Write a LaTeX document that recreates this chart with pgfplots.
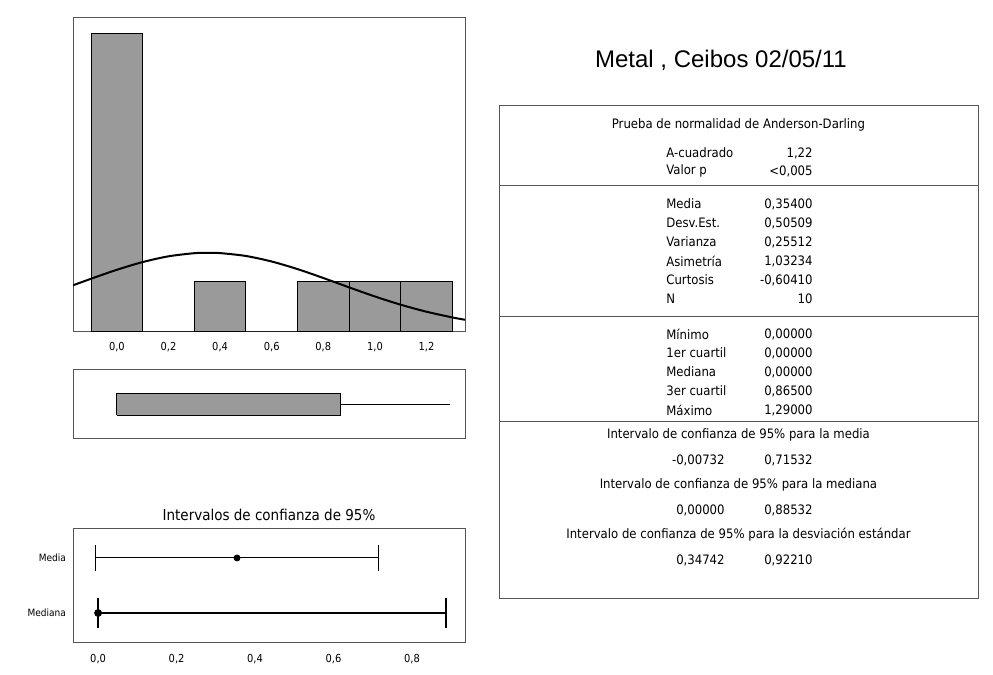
\documentclass[border=0pt]{standalone}
\usepackage{fontspec}
\setmainfont{DejaVu Sans Condensed}
\newfontfamily\titlefont{Liberation Sans}
\usepackage{pgfplots}
\pgfplotsset{compat=1.18}

\definecolor{bargray}{HTML}{9A9A9A}
\definecolor{framegray}{HTML}{555555}

% common look of the three panels on the left
\pgfplotsset{
  summary/.style={
    scale only axis,
    width=196pt,
    anchor=south west,
    axis line style={framegray, line width=0.4pt},
    major tick length=0pt,
    tick label style={font=\fontsize{5.5}{6}\selectfont},
    /pgf/number format/use comma,
    /pgf/number format/fixed,
    /pgf/number format/fixed zerofill,
    /pgf/number format/precision=1,
    /pgf/number format/assume math mode=true,
  }
}
\newcommand\tabfont{\fontsize{6.5}{7.5}\selectfont}

\begin{document}
\begin{tikzpicture}
\useasboundingbox (0,0) rectangle (496.5pt,-337.5pt);

% histogram with fitted normal curve
\begin{axis}[summary,
  at={(36.5pt,-165.5pt)}, height=157pt,
  xmin=-0.17, xmax=1.349, ymin=0, ymax=6.34,
  ytick=\empty,
  xtick={0,0.2,0.4,0.6,0.8,1.0,1.2},
  xticklabel style={yshift=-2pt},
]
\addplot[ybar interval, fill=bargray, draw=black, line width=0.5pt]
  coordinates {(-0.1,6) (0.1,0) (0.3,1) (0.5,0) (0.7,1) (0.9,1) (1.1,1) (1.3,1)};
\addplot[black, line width=1pt, smooth] coordinates {
  (-0.17,0.923) (-0.1,1.055) (0.0,1.236) (0.1,1.392) (0.2,1.508) (0.3,1.571)
  (0.354,1.580) (0.4,1.573) (0.5,1.515) (0.6,1.403) (0.7,1.250) (0.8,1.070)
  (0.9,0.881) (1.0,0.697) (1.1,0.531) (1.2,0.389) (1.3,0.274) (1.35,0.226)};
\end{axis}

% box plot
\begin{axis}[summary,
  at={(36.5pt,-219pt)}, height=34.5pt,
  xmin=-0.17, xmax=1.349, ymin=0, ymax=1,
  xtick=\empty, ytick=\empty,
]
\addplot[fill=bargray, draw=black, line width=0.5pt]
  coordinates {(0,0.333) (0.865,0.333) (0.865,0.638) (0,0.638) (0,0.333)};
\addplot[black, line width=0.5pt] coordinates {(0.865,0.486) (1.29,0.486)};
\end{axis}

% 95% confidence intervals
\begin{axis}[summary,
  at={(36.5pt,-321pt)}, height=57pt,
  xmin=-0.064, xmax=0.935, ymin=0.473, ymax=2.545,
  xtick={0,0.2,0.4,0.6,0.8},
  xticklabel style={yshift=-2.5pt},
  ytick={1,2}, yticklabels={Mediana,Media},
  yticklabel style={font=\fontsize{5}{6}\selectfont},
]
\addplot[black, line width=0.5pt] coordinates {(-0.00732,2) (0.71532,2)};
\addplot[black, line width=0.5pt] coordinates {(-0.00732,1.755) (-0.00732,2.245)};
\addplot[black, line width=0.5pt] coordinates {(0.71532,1.755) (0.71532,2.245)};
\addplot[black, only marks, mark=*, mark size=1.5pt] coordinates {(0.354,2)};
\addplot[black, line width=1pt] coordinates {(0,1) (0.88532,1)};
\addplot[black, line width=1pt] coordinates {(0,0.736) (0,1.264)};
\addplot[black, line width=1pt] coordinates {(0.88532,0.736) (0.88532,1.264)};
\addplot[black, only marks, mark=*, mark size=1.75pt] coordinates {(0,1)};
\end{axis}

\node[font=\fontsize{7.5}{9}\selectfont] at (134.5pt,-257.5pt) {Intervalos de confianza de 95\%};

% title
\node[font=\titlefont\fontsize{12}{14}\selectfont] at (360.5pt,-30pt) {Metal , Ceibos 02/05/11};

% summary table
\draw[framegray, line width=0.4pt] (249.5pt,-52.5pt) rectangle (489pt,-299pt);
\draw[framegray, line width=0.4pt] (249.5pt,-92.5pt) -- (489pt,-92.5pt);
\draw[framegray, line width=0.4pt] (249.5pt,-158pt) -- (489pt,-158pt);
\draw[framegray, line width=0.4pt] (249.5pt,-210.5pt) -- (489pt,-210.5pt);

\begin{scope}[every node/.style={font=\tabfont, inner sep=0pt}]
\node at (369.25pt,-62.5pt) {Prueba de normalidad de Anderson-Darling};
\node[anchor=west] at (333pt,-76.5pt) {A-cuadrado};
\node[anchor=east] at (406.5pt,-76.5pt) {1,22};
\node[anchor=west] at (333pt,-85.5pt) {Valor p};
\node[anchor=east] at (406.5pt,-85.5pt) {<0,005};

\node[anchor=west] at (333pt,-102pt) {Media};
\node[anchor=east] at (406.5pt,-102pt) {0,35400};
\node[anchor=west] at (333pt,-111.5pt) {Desv.Est.};
\node[anchor=east] at (406.5pt,-111.5pt) {0,50509};
\node[anchor=west] at (333pt,-121pt) {Varianza};
\node[anchor=east] at (406.5pt,-121pt) {0,25512};
\node[anchor=west] at (333pt,-130.5pt) {Asimetría};
\node[anchor=east] at (406.5pt,-130.5pt) {1,03234};
\node[anchor=west] at (333pt,-140pt) {Curtosis};
\node[anchor=east] at (406.5pt,-140pt) {-0,60410};
\node[anchor=west] at (333pt,-149.5pt) {N};
\node[anchor=east] at (406.5pt,-149.5pt) {10};

\node[anchor=west] at (333pt,-167pt) {Mínimo};
\node[anchor=east] at (406.5pt,-167pt) {0,00000};
\node[anchor=west] at (333pt,-176.5pt) {1er cuartil};
\node[anchor=east] at (406.5pt,-176.5pt) {0,00000};
\node[anchor=west] at (333pt,-186pt) {Mediana};
\node[anchor=east] at (406.5pt,-186pt) {0,00000};
\node[anchor=west] at (333pt,-195.5pt) {3er cuartil};
\node[anchor=east] at (406.5pt,-195.5pt) {0,86500};
\node[anchor=west] at (333pt,-205pt) {Máximo};
\node[anchor=east] at (406.5pt,-205pt) {1,29000};

\node at (369.25pt,-217.5pt) {Intervalo de confianza de 95\% para la media};
\node[anchor=east] at (362.5pt,-230pt) {-0,00732};
\node[anchor=east] at (406.5pt,-230pt) {0,71532};
\node at (369.25pt,-242.5pt) {Intervalo de confianza de 95\% para la mediana};
\node[anchor=east] at (362.5pt,-255pt) {0,00000};
\node[anchor=east] at (406.5pt,-255pt) {0,88532};
\node at (369.25pt,-267.5pt) {Intervalo de confianza de 95\% para la desviación estándar};
\node[anchor=east] at (362.5pt,-280pt) {0,34742};
\node[anchor=east] at (406.5pt,-280pt) {0,92210};
\end{scope}
\end{tikzpicture}
\end{document}
